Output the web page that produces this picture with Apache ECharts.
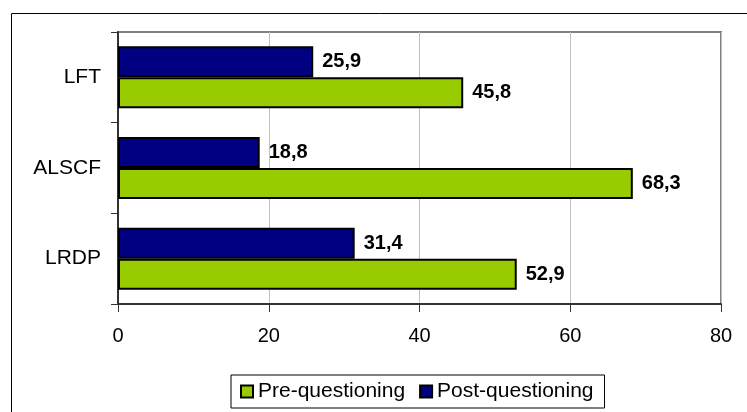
<!DOCTYPE html>
<html>
<head>
<meta charset="utf-8">
<script src="https://cdn.jsdelivr.net/npm/echarts@6/dist/echarts.min.js"></script>
<style>
html,body{margin:0;padding:0;background:#fff;}
#chart{width:747px;height:412px;}
</style>
</head>
<body>
<div id="chart"></div>
<script>
var categories = ['LFT', 'ALSCF', 'LRDP'];
var preValues = [45.8, 68.3, 52.9];
var postValues = [25.9, 18.8, 31.4];
var xTicks = [0, 20, 40, 60, 80];

var chart = echarts.init(document.getElementById('chart'), null, {renderer: 'canvas'});
var fmt = function (p) { return String(p.value).replace('.', ','); };
var labelCfg = {
  show: true, position: 'right', distance: 9, formatter: fmt,
  color: '#000', fontWeight: 'bold', fontSize: 20, fontFamily: 'Liberation Sans, Arial, sans-serif'
};
chart.setOption({
  animation: false,
  backgroundColor: '#fff',
  textStyle: {fontFamily: 'Liberation Sans, Arial, sans-serif'},
  graphic: [{
    type: 'rect', left: 9, top: 11, z: -10,
    shape: {width: 760, height: 420},
    style: {fill: 'none', stroke: '#000', lineWidth: 1}
  }],
  grid: {
    left: 118, top: 32, right: 26, bottom: 108,
    show: true, backgroundColor: '#fff', borderColor: '#808080', borderWidth: 2
  },
  legend: {
    left: 231, top: 375,
    data: ['Pre-questioning', 'Post-questioning'],
    itemWidth: 12, itemHeight: 12, itemGap: 14,
    padding: [6, 11, 6, 9],
    borderColor: '#000', borderWidth: 1,
    icon: 'rect',
    textStyle: {fontSize: 21, color: '#000', fontFamily: 'Liberation Sans, Arial, sans-serif'}
  },
  xAxis: {
    type: 'value', min: xTicks[0], max: xTicks[xTicks.length - 1], interval: 20,
    axisLine: {show: true, lineStyle: {color: '#333', width: 2}},
    axisTick: {show: true, length: 8, lineStyle: {color: '#333', width: 1}},
    axisLabel: {fontSize: 20, color: '#000', margin: 22},
    splitLine: {show: true, lineStyle: {color: '#c0c0c0', width: 1}}
  },
  yAxis: {
    type: 'category', data: categories, inverse: true,
    axisLine: {show: true, lineStyle: {color: '#333', width: 2}},
    axisTick: {show: true, length: 7, lineStyle: {color: '#333', width: 1}},
    axisLabel: {fontSize: 21, color: '#000', margin: 17},
    splitLine: {show: false}
  },
  series: [
    {
      name: 'Post-questioning', type: 'bar', data: postValues,
      barWidth: 31, barGap: '0%',
      itemStyle: {color: '#000080', borderColor: '#000', borderWidth: 2},
      label: labelCfg
    },
    {
      name: 'Pre-questioning', type: 'bar', data: preValues,
      barWidth: 31, barGap: '0%',
      itemStyle: {color: '#99CC00', borderColor: '#000', borderWidth: 2},
      label: labelCfg
    }
  ]
});
</script>
</body>
</html>
